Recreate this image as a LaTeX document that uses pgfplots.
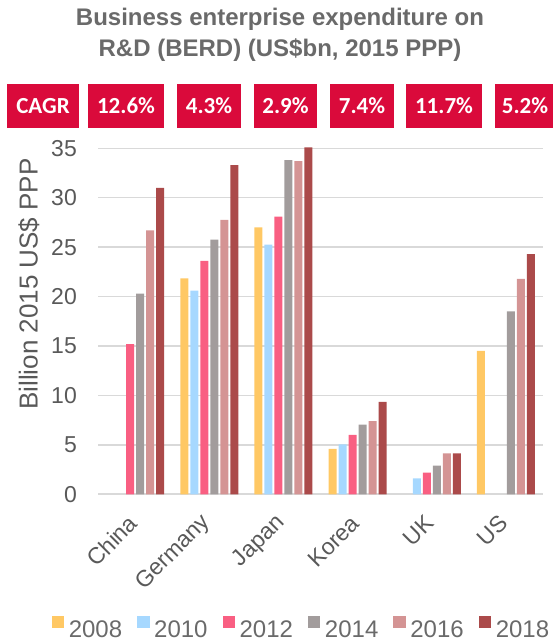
\documentclass[border=0pt]{standalone}
\usepackage{fontspec}
\setmainfont{Liberation Sans}
\newfontfamily\carlito{Carlito}
\usepackage{pgfplots}
\pgfplotsset{compat=1.18}
\definecolor{c08}{HTML}{FFC864}
\definecolor{c10}{HTML}{A6D8FF}
\definecolor{c12}{HTML}{F95F82}
\definecolor{c14}{HTML}{A29C9C}
\definecolor{c16}{HTML}{D49494}
\definecolor{c18}{HTML}{AB4A4A}
\definecolor{cagr}{HTML}{DA0A3B}
\definecolor{txt}{HTML}{595959}
\definecolor{ttl}{HTML}{6A6A6A}
\definecolor{gridc}{HTML}{D9D9D9}
\begin{document}
\begin{tikzpicture}[x=1pt,y=1pt]
\path[use as bounding box] (0,0) rectangle (553,642);
\node[font=\fontsize{24}{31}\selectfont\bfseries, text=ttl, align=center] at (280,607) {Business enterprise expenditure on\\R\&D (BERD) (US\$bn, 2015 PPP)};
\foreach \cx/\w/\t in {43/72/CAGR, 126/76/12.6\%, 209/64/4.3\%, 285.5/63/2.9\%, 362/64/7.4\%, 444/76/11.7\%, 525/60/5.2\%}{
  \fill[cagr] (\cx-\w/2,514) rectangle (\cx+\w/2,558);
  \node[text=white, font=\carlito\bfseries\fontsize{23}{26}\selectfont] at (\cx,536) {\t};
}
\node[rotate=90, font=\fontsize{26}{30}\selectfont, text=txt] at (29,358) {Billion 2015 US\$ PPP};
\begin{axis}[
  at={(98pt,147.7pt)}, anchor=south west,
  scale only axis, width=445pt, height=346pt,
  ybar=2pt, bar width=8pt,
  xmin=-0.5, xmax=5.5, ymin=0, ymax=35,
  clip=false,
  ytick={0,5,...,35},
  xtick={0,1,2,3,4,5},
  xticklabels={China,Germany,Japan,Korea,UK,US},
  ymajorgrids=true,
  grid style={gridc, line width=1.5pt},
  axis x line*=bottom, axis y line*=left,
  y axis line style={draw=none},
  x axis line style={gridc, line width=2pt},
  major tick length=0pt,
  tick label style={font=\fontsize{23}{26}\selectfont, text=txt},
  /pgf/number format/assume math mode=true,
  yticklabel style={inner sep=0pt, anchor=east, xshift=-21pt},
  xticklabel style={xshift=-2pt, yshift=-25pt, rotate=45, anchor=east, inner sep=0pt},
  legend columns=6,
  legend style={at={(0.455,-0.385)}, anchor=center, draw=none, fill=none,
    font=\fontsize{24}{28}\selectfont, text=ttl,
    nodes={inner sep=0pt},
    /tikz/every even column/.append style={column sep=15pt},
    /tikz/every odd column/.append style={column sep=4.5pt}},
  legend image code/.code={\fill[#1,/tikz/.cd] (0pt,1pt) rectangle (12.5pt,13pt);},
]
\addplot[fill=c08, draw=none] coordinates {(1,21.85) (2,27.0) (3,4.6) (5,14.5)};
\addplot[fill=c10, draw=none] coordinates {(1,20.6) (2,25.25) (3,5.05) (4,1.6)};
\addplot[fill=c12, draw=none] coordinates {(0,15.2) (1,23.6) (2,28.1) (3,6.0) (4,2.2)};
\addplot[fill=c14, draw=none] coordinates {(0,20.3) (1,25.75) (2,33.8) (3,7.05) (4,2.9) (5,18.5)};
\addplot[fill=c16, draw=none] coordinates {(0,26.7) (1,27.75) (2,33.7) (3,7.4) (4,4.15) (5,21.8)};
\addplot[fill=c18, draw=none] coordinates {(0,31.0) (1,33.3) (2,35.1) (3,9.35) (4,4.15) (5,24.3)};
\legend{2008,2010,2012,2014,2016,2018}
\end{axis}
\end{tikzpicture}
\end{document}
